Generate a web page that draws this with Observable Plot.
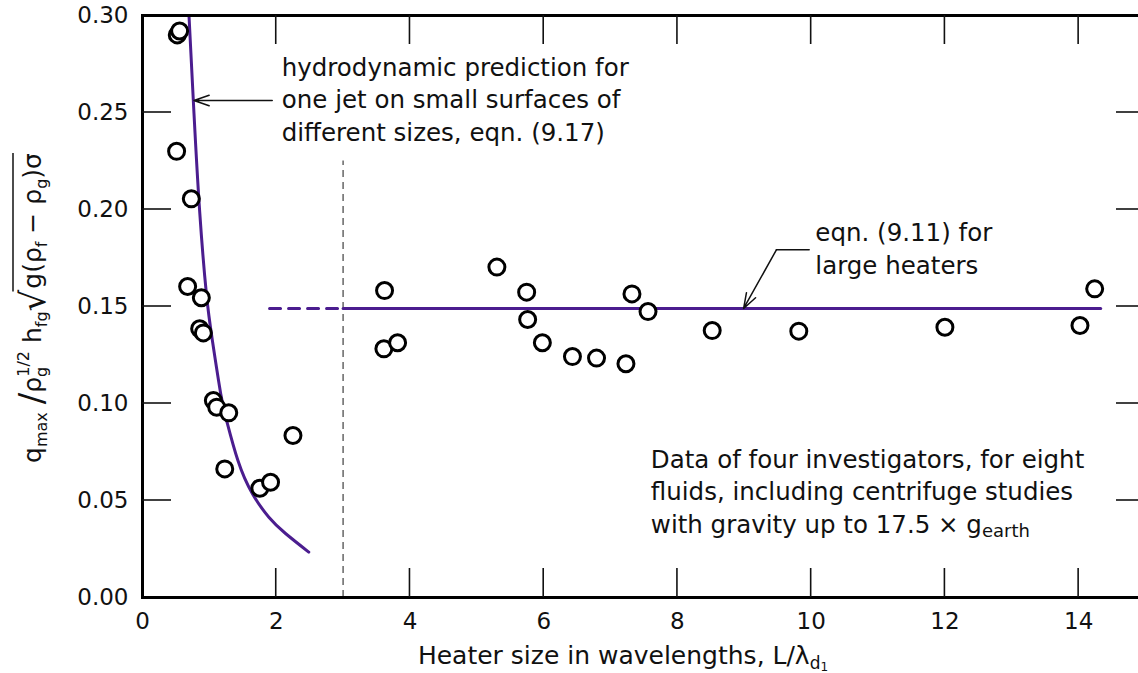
<!DOCTYPE html>
<html><head><meta charset="utf-8">
<script src="https://cdn.jsdelivr.net/npm/d3@7"></script>
<script src="https://cdn.jsdelivr.net/npm/@observablehq/plot@0.6"></script>
<style>
html,body{margin:0;padding:0;background:#fff;overflow:hidden;}
#chart{position:relative;width:1138px;height:673px;}
#chart svg{display:block;}
#overlay{position:absolute;left:0;top:0;pointer-events:none;}
</style></head><body><div id="chart"></div>
<script>
// ---- data ----
const pointX = [0.52, 0.555, 0.51, 0.73, 0.675, 0.88, 0.855, 0.91, 1.06, 1.11, 1.29, 1.23, 1.755, 1.915, 2.25,
  3.62, 3.61, 3.815, 5.30, 5.745, 5.76, 5.98, 6.43, 6.79, 7.23, 7.32, 7.56, 8.52, 9.815, 12.0, 14.02, 14.24];
const pointY = [0.290, 0.292, 0.230, 0.2055, 0.1603, 0.1545, 0.1385, 0.1364, 0.1015, 0.0981, 0.0952, 0.0663, 0.0563, 0.0594, 0.0835,
  0.1582, 0.1282, 0.1313, 0.1703, 0.1574, 0.1433, 0.1313, 0.1242, 0.1234, 0.1205, 0.1565, 0.1474, 0.1376, 0.1373, 0.1393, 0.1402, 0.1591];
// hydrodynamic prediction curve (eqn. 9.17)
const curveX = [0.696, 0.770, 0.855, 0.955, 1.045, 1.169, 1.258, 1.427, 1.642, 1.890, 2.139, 2.487];
const curveY = [0.2995, 0.2495, 0.1990, 0.1567, 0.1325, 0.1052, 0.0912, 0.0706, 0.0536, 0.0414, 0.0330, 0.0234];
// eqn. (9.11) for large heaters
const eqn911 = 0.149;
const eqn911SolidX = [3, 14.33];
const eqn911DashX = [1.9, 3];
// divider between small and large heaters
const dividerX = 3;
const dividerTop = 0.225;
// ticks
const xTicks = [0, 2, 4, 6, 8, 10, 12, 14];
const yTicks = [0, 0.05, 0.10, 0.15, 0.20, 0.25, 0.30];
const xDomain = [0, 15];
const yDomain = [0, 0.30];
// annotations (data coordinates of first-line baseline)
const noteJet = {x: 2.09, y: 0.2686, lines: ["hydrodynamic prediction for", "one jet on small surfaces of", "different sizes, eqn. (9.17)"]};
const arrowJet = {x1: 1.94, y1: 0.2562, x2: 0.77, y2: 0.2562};
const noteLarge = {x: 10.07, y: 0.1835, lines: ["eqn. (9.11) for", "large heaters"]};
const leaderLarge = {x1: 9.97, x2: 9.48, y: 0.1792};
const arrowLarge = {x1: 9.48, y1: 0.1792, x2: 8.99, y2: 0.1490};
const noteData = {x: 7.61, y: 0.0665, lines: ["Data of four investigators, for eight", "fluids, including centrifuge studies"]};

const purple = "#4b1d8f";
const FONT = "'DejaVu Sans', sans-serif";
const points = pointX.map((x, i) => ({x, y: pointY[i]}));
const curve = curveX.map((x, i) => ({x, y: curveY[i]}));

const W = 1138, H = 673, ML = 142, MR = -7, MT = 15, MB = 76;
const TICK = 29; // inward tick length, px
const xIn = xTicks.filter(d => d > xDomain[0] && d < xDomain[1]);
const yIn = yTicks.filter(d => d > yDomain[0] && d < yDomain[1]);

const chart = Plot.plot({
  width: W, height: H,
  marginLeft: ML, marginRight: MR, marginTop: MT, marginBottom: MB,
  style: {fontFamily: FONT, fontSize: "23px", color: "#111", background: "#fff", overflow: "hidden"},
  x: {domain: xDomain},
  y: {domain: yDomain},
  marks: [
    Plot.ruleX([dividerX], {x: d => d, y1: 0, y2: dividerTop, stroke: "#666", strokeWidth: 1.5, strokeDasharray: "7,5"}),
    Plot.line(curve, {x: "x", y: "y", curve: "natural", stroke: purple, strokeWidth: 3}),
    Plot.line(eqn911SolidX.map(x => ({x, y: eqn911})), {x: "x", y: "y", stroke: purple, strokeWidth: 3}),
    Plot.line(eqn911DashX.map(x => ({x, y: eqn911})), {x: "x", y: "y", stroke: purple, strokeWidth: 3, strokeDasharray: "11,8"}),
    Plot.dot(points, {x: "x", y: "y", r: 8, stroke: "#000", strokeWidth: 3, fill: "#fff"}),
    Plot.arrow([arrowJet], {x1: "x1", y1: "y1", x2: "x2", y2: "y2", stroke: "#111", strokeWidth: 1.5, headLength: 16, headAngle: 38}),
    Plot.line([{x: leaderLarge.x1, y: leaderLarge.y}, {x: leaderLarge.x2, y: leaderLarge.y}], {x: "x", y: "y", stroke: "#111", strokeWidth: 1.5}),
    Plot.arrow([arrowLarge], {x1: "x1", y1: "y1", x2: "x2", y2: "y2", stroke: "#111", strokeWidth: 1.5, headLength: 16, headAngle: 38}),
    Plot.axisX(xTicks, {tickSize: 0, tickPadding: 15, fontSize: 23, tickFormat: d => String(d), label: null}),
    Plot.axisY(yTicks, {tickSize: 0, tickPadding: 14, fontSize: 23, tickFormat: d3.format(".2f"), label: null}),
    Plot.frame({stroke: "#000", strokeWidth: 3})
  ]
});
const host = document.getElementById("chart");
host.append(chart);

// overlay SVG: inward ticks and rich-text labels, positioned with the plot's own scales
const sx = chart.scale("x"), sy = chart.scale("y");
const layer = d3.select(host).append("svg").attr("id", "overlay")
  .attr("width", W).attr("height", H).attr("viewBox", `0 0 ${W} ${H}`);

const px0 = sx.apply(xDomain[0]), px1 = sx.apply(xDomain[1]);
const py0 = sy.apply(yDomain[0]), py1 = sy.apply(yDomain[1]);
const tg = layer.append("g").attr("stroke", "#111").attr("stroke-width", 1.6);
for (const v of xIn) {
  const x = sx.apply(v);
  tg.append("line").attr("x1", x).attr("x2", x).attr("y1", py0).attr("y2", py0 - TICK);
  tg.append("line").attr("x1", x).attr("x2", x).attr("y1", py1).attr("y2", py1 + TICK);
}
for (const v of yIn) {
  const y = sy.apply(v);
  tg.append("line").attr("x1", px0).attr("x2", px0 + TICK).attr("y1", y).attr("y2", y);
  tg.append("line").attr("x1", px1).attr("x2", px1 - TICK).attr("y1", y).attr("y2", y);
}

function rich(parent, parts, size) {
  const text = parent.append("text").attr("fill", "#111")
    .style("font-family", FONT).style("font-size", size + "px");
  let cur = 0;
  for (const p of parts) {
    const off = p.dy || 0;
    const ts = text.append("tspan").text(p.t).style("font-size", (p.size || size) + "px").attr("dy", off - cur);
    if (p.dx) ts.attr("dx", p.dx);
    if (p.cls) ts.attr("data-part", p.cls);
    cur = off;
  }
  return text;
}
function note(n, extra) {
  const x = sx.apply(n.x), y0 = sy.apply(n.y);
  const g = layer.append("g").attr("text-anchor", "start");
  n.lines.forEach((line, i) => {
    rich(g.append("g").attr("transform", `translate(${x},${y0 + i * 32.5})`), [{t: line}], 24.5);
  });
  if (extra) rich(g.append("g").attr("transform", `translate(${x},${y0 + n.lines.length * 32.5})`), extra, 24.5);
}
note(noteJet);
note(noteLarge);
note(noteData, [{t: "with gravity up to 17.5 × g"}, {t: "earth", size: 18, dy: 4}]);

// x-axis label
rich(layer.append("g").attr("transform", "translate(623,664)").attr("text-anchor", "middle"),
  [{t: "Heater size in wavelengths, L/λ"}, {t: "d", size: 17, dy: 5}, {t: "1", size: 12, dy: 7}], 25);

// y-axis label (rotated) with radical
const gy = layer.append("g").attr("transform", "translate(41,308) rotate(-90)").attr("text-anchor", "middle");
rich(gy, [
  {t: "q"}, {t: "max", size: 16, dy: 6}, {t: " "}, {t: "/", size: 34, dy: 2}, {t: "ρ", dy: 0},
  {t: "g", size: 16, dy: 6}, {t: "1/2", size: 16, dy: -12, dx: -10}, {t: " h", dy: 0}, {t: "fg", size: 16, dy: 6},
  {t: "√", size: 34, dy: 4, cls: "rad0"}, {t: "g(ρ", dy: 0, dx: 1, cls: "rad"}, {t: "f", size: 16, dy: 6, cls: "rad"},
  {t: " − ρ", dy: 0, cls: "rad"}, {t: "g", size: 16, dy: 6, cls: "rad"}, {t: ")σ", dy: 0, cls: "rad"}
], 25);
try {
  const r0 = gy.select("tspan[data-part=rad0]").node().getBBox();
  const bb = gy.selectAll("tspan[data-part=rad]").nodes().map(n => n.getBBox());
  const rx0 = r0.x + r0.width - 2, rx1 = d3.max(bb, b => b.x + b.width);
  gy.append("line").attr("x1", rx0).attr("x2", rx1).attr("y1", -28).attr("y2", -28).attr("stroke", "#111").attr("stroke-width", 1.5);
} catch (e) {}
</script></body></html>
